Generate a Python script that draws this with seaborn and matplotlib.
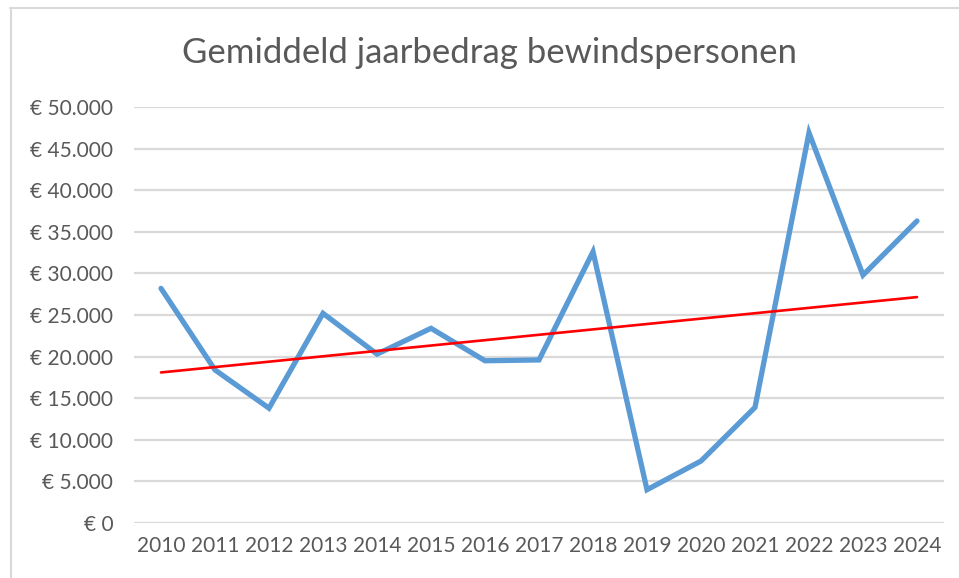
import numpy as np
import pandas as pd
import matplotlib
matplotlib.use("Agg")
import matplotlib.pyplot as plt
from matplotlib.lines import Line2D
from matplotlib.ticker import FuncFormatter
import seaborn as sns

# Data
years = ['2010', '2011', '2012', '2013', '2014', '2015', '2016', '2017',
         '2018', '2019', '2020', '2021', '2022', '2023', '2024']
amounts = [28200, 18400, 13800, 25200, 20300, 23400, 19500, 19600,
           32600, 4000, 7450, 13900, 46900, 29800, 36300]
y_ticks = [0, 5000, 10000, 15000, 20000, 25000, 30000, 35000, 40000, 45000, 50000]


def euro(v, pos=None):
    if v == 0:
        return '€ 0'
    return '€ ' + f'{int(v):,}'.replace(',', '.')


def main():
    sns.set_theme(style="white")
    plt.rcParams['font.family'] = ['Lato', 'DejaVu Sans']

    df = pd.DataFrame({'jaar': years, 'bedrag': amounts})
    df['x'] = np.arange(len(df))

    fig = plt.figure(figsize=(9.59, 5.78), dpi=100)
    W, H = 959, 578
    ax = fig.add_axes([134 / W, (H - 523) / H, 810 / W, 416 / H])

    # horizontal gridlines
    for t in y_ticks:
        ax.axhline(t, color='#D9D9D9', lw=1.6, zorder=0)

    sns.lineplot(data=df, x='x', y='bedrag', ax=ax, color='#5B9BD5',
                 linewidth=3.8, solid_joinstyle='miter', zorder=3)

    # linear trendline (least squares on the series)
    slope, icpt = np.polyfit(df['x'], df['bedrag'], 1)
    trend = slope * df['x'] + icpt
    sns.lineplot(x=df['x'], y=trend, ax=ax, color='#FF0000', linewidth=1.9, zorder=4)

    ax.set_xlim(-0.5, len(years) - 0.5)
    ax.set_ylim(0, 50000)
    ax.set_xticks(df['x'])
    ax.set_xticklabels(years)
    ax.set_yticks(y_ticks)
    ax.yaxis.set_major_formatter(FuncFormatter(euro))
    ax.tick_params(axis='both', length=0, labelsize=15, colors='#595959')
    ax.tick_params(axis='y', pad=15)
    ax.tick_params(axis='x', pad=9)
    ax.set_xlabel('')
    ax.set_ylabel('')
    for s in ax.spines.values():
        s.set_visible(False)

    fig.text(489 / W, 1 - 53 / H, 'Gemiddeld jaarbedrag bewindspersonen',
             ha='center', va='center', fontsize=25, color='#595959')

    # chart frame (left and top edges visible)
    fig.add_artist(Line2D([10.5 / W, 10.5 / W], [0, 1 - 8 / H], transform=fig.transFigure,
                          color='#D9D9D9', lw=1.5))
    fig.add_artist(Line2D([10 / W, 1], [1 - 8 / H, 1 - 8 / H], transform=fig.transFigure,
                          color='#D9D9D9', lw=1.5))

    fig.savefig('out.png', dpi=100)
    plt.close(fig)


if __name__ == "__main__":
    main()
